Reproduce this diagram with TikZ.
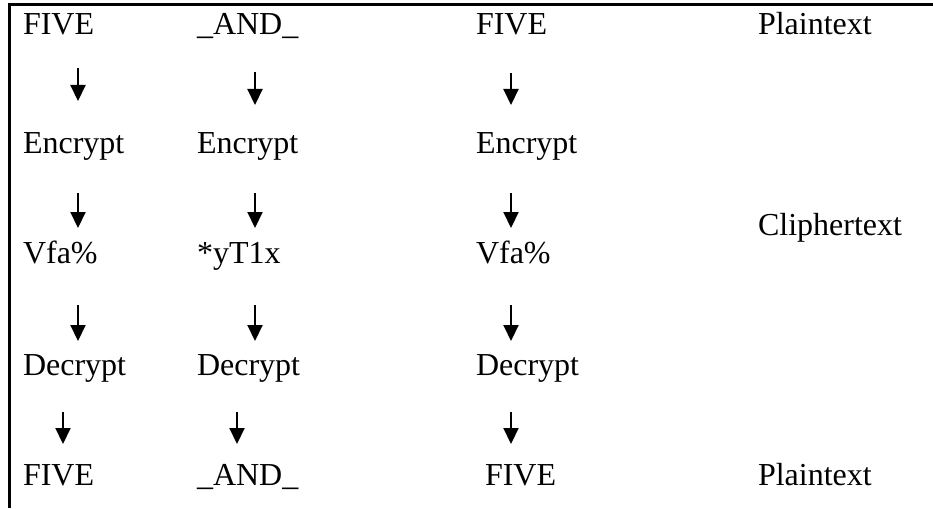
\documentclass[tikz,border=0pt]{standalone}
\usepackage{fontspec}
\setmainfont{Liberation Serif}
\usetikzlibrary{arrows.meta}

\begin{document}
\begin{tikzpicture}
  [
    x=1pt,y=-1pt,
    font=\fontsize{32}{38}\selectfont,
    word/.style={anchor=base west,inner sep=0pt,outer sep=0pt},
    flow/.style={line width=2.1pt,-{Triangle[width=15pt,length=16pt]}},
    frame/.style={line width=3pt},
  ]
  \useasboundingbox (0,0) rectangle (933,508);

  % frame: top and left edge only
  \coordinate (frame-bl) at (9,508);
  \coordinate (frame-tl) at (9,5);
  \coordinate (frame-tr) at (933,5);
  \draw[frame] (frame-bl) -- (frame-tl) -- (frame-tr);

  % plaintext in
  \node[word] (pt-1) at (23,35)  {FIVE};
  \node[word] (pt-2) at (197,35) {\_AND\_};
  \node[word] (pt-3) at (476,35) {FIVE};
  \node[word] (pt-lbl) at (758,35) {Plaintext};

  \node[word] (enc-1) at (23,153)  {Encrypt};
  \node[word] (enc-2) at (197,153) {Encrypt};
  \node[word] (enc-3) at (476,153) {Encrypt};

  % ciphertext
  \node[word] (ct-1) at (23,263)  {Vfa\%};
  \node[word] (ct-2) at (197,263) {*yT1x};
  \node[word] (ct-3) at (476,263) {Vfa\%};
  \node[word] (ct-lbl) at (758,235) {Cliphertext};

  \node[word] (dec-1) at (23,375)  {Decrypt};
  \node[word] (dec-2) at (197,375) {Decrypt};
  \node[word] (dec-3) at (476,375) {Decrypt};

  % plaintext out
  \node[word] (out-1) at (23,485)  {FIVE};
  \node[word] (out-2) at (197,485) {\_AND\_};
  \node[word] (out-3) at (485,485) {FIVE};
  \node[word] (out-lbl) at (758,485) {Plaintext};

  % down arrows between the rows
  \foreach \n/\x/\ya/\yb in {
      a1-1/78/68/101,  a1-2/255/72/105,  a1-3/511/73/105,
      a2-1/78/193/228, a2-2/255/193/228, a2-3/511/193/228,
      a3-1/78/305/341, a3-2/255/305/341, a3-3/511/305/341,
      a4-1/63/412/444, a4-2/237/412/444, a4-3/511/412/444}
  {
    \coordinate (\n-top) at (\x,\ya);
    \coordinate (\n-tip) at (\x,\yb);
    \draw[flow] (\n-top) -- (\n-tip);
  }
\end{tikzpicture}
\end{document}
